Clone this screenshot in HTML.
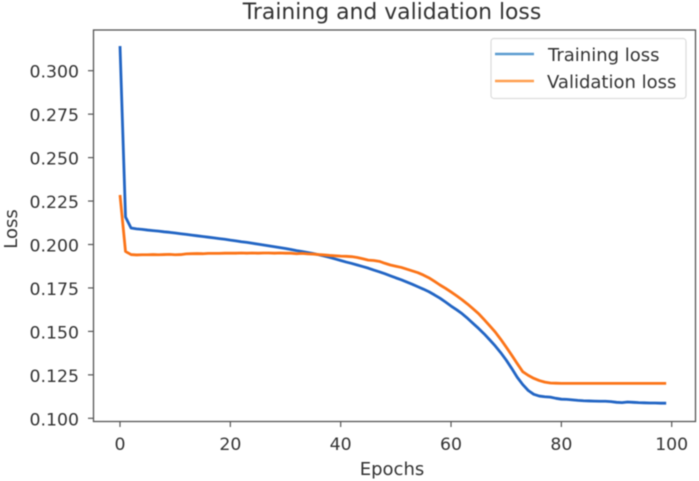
<!DOCTYPE html>
<html>
<head>
<meta charset="utf-8">
<style>
html,body{margin:0;padding:0;background:#fff;width:699px;height:481px;overflow:hidden}
svg{display:block;filter:blur(0.45px)}
text{font-family:"DejaVu Sans","Liberation Sans",sans-serif;fill:#333}
</style>
</head>
<body>
<svg id="chart" width="699" height="481" viewBox="0 0 699 481" xmlns="http://www.w3.org/2000/svg"></svg>
<script>
const chartTitle = "Training and validation loss";
const xTicks = [0, 20, 40, 60, 80, 100];
const yTicks = [0.100, 0.125, 0.150, 0.175, 0.200, 0.225, 0.250, 0.275, 0.300];
const trainingLoss = [
0.3142,0.2158,0.2095,0.2090,0.2087,0.2083,0.2080,0.2077,0.2073,0.2070,
0.2066,0.2062,0.2058,0.2054,0.2050,0.2046,0.2042,0.2038,0.2034,0.2030,
0.2025,0.2021,0.2016,0.2012,0.2007,0.2002,0.1997,0.1992,0.1987,0.1982,
0.1977,0.1971,0.1965,0.1960,0.1954,0.1948,0.1941,0.1934,0.1926,0.1917,
0.1908,0.1899,0.1891,0.1882,0.1873,0.1864,0.1853,0.1843,0.1832,0.1820,
0.1808,0.1797,0.1784,0.1771,0.1757,0.1743,0.1728,0.1710,0.1691,0.1669,
0.1646,0.1625,0.1602,0.1575,0.1546,0.1517,0.1486,0.1452,0.1417,0.1378,
0.1335,0.1287,0.1236,0.1194,0.1160,0.1138,0.1128,0.1124,0.1122,0.1115,
0.1110,0.1109,0.1106,0.1103,0.1101,0.1100,0.1099,0.1098,0.1098,0.1096,
0.1092,0.1090,0.1094,0.1092,0.1090,0.1089,0.1088,0.1088,0.1087,0.1087];
const validationLoss = [
0.2285,0.1960,0.1942,0.1940,0.1941,0.1941,0.1942,0.1941,0.1942,0.1943,
0.1941,0.1942,0.1946,0.1947,0.1948,0.1947,0.1949,0.1949,0.1949,0.1950,
0.1950,0.1950,0.1951,0.1950,0.1951,0.1950,0.1951,0.1951,0.1950,0.1951,
0.1950,0.1950,0.1947,0.1949,0.1946,0.1945,0.1942,0.1940,0.1937,0.1935,
0.1933,0.1932,0.1930,0.1925,0.1918,0.1910,0.1908,0.1903,0.1892,0.1882,
0.1875,0.1868,0.1858,0.1848,0.1838,0.1824,0.1808,0.1788,0.1767,0.1748,
0.1727,0.1705,0.1682,0.1657,0.1630,0.1602,0.1568,0.1533,0.1497,0.1455,
0.1410,0.1363,0.1315,0.1268,0.1247,0.1230,0.1217,0.1208,0.1203,0.1202,
0.1201,0.1201,0.1201,0.1201,0.1201,0.1201,0.1201,0.1201,0.1201,0.1201,
0.1201,0.1201,0.1201,0.1201,0.1201,0.1201,0.1201,0.1201,0.1201,0.1201];

const NS = "http://www.w3.org/2000/svg";
const svg = document.getElementById("chart");
const left = 93.5, right = 695.5, top_ = 30, bottom = 421.5;
function xScale(v){ return 120 + v * 5.517; }
function yScale(v){ return 418.3 - (v - 0.1) * 1738; }
function add(tag, attrs, parent){
  const el = document.createElementNS(NS, tag);
  for (const k in attrs) el.setAttribute(k, attrs[k]);
  (parent || svg).appendChild(el);
  return el;
}
function pathFor(vals){
  return vals.map((v, i) => (i ? "L" : "M") + xScale(i).toFixed(2) + " " + yScale(v).toFixed(2)).join(" ");
}

const titleEl = add("text", {x: 392, y: 19, "text-anchor": "middle", "font-size": 21.9});


titleEl.textContent = chartTitle;

xTicks.forEach(t => {
  const tick = add("line", {x1: xScale(t), x2: xScale(t), y1: bottom, y2: bottom + 5.5, stroke: "#555", "stroke-width": 1.2});
  
  
  const lab = add("text", {x: xScale(t), y: 450, "text-anchor": "middle", "font-size": 17.3});
  
  
  lab.textContent = String(t);
});
yTicks.forEach(t => {
  const tick = add("line", {x1: left - 5.5, x2: left, y1: yScale(t), y2: yScale(t), stroke: "#555", "stroke-width": 1.2});
  
  
  const lab = add("text", {x: 79, y: yScale(t) + 7, "text-anchor": "end", "font-size": 17.3});
  
  
  lab.textContent = t.toFixed(3);
});

const xTitle = add("text", {x: 392, y: 475, "text-anchor": "middle", "font-size": 18});


xTitle.textContent = "Epochs";
const yTitle = add("text", {x: 17, y: 229, "text-anchor": "middle", "font-size": 18, transform: "rotate(-90 17 229)"});


yTitle.textContent = "Loss";

const trainLine = add("path", {d: pathFor(trainingLoss), fill: "none", stroke: "#2265c4", "stroke-width": 2.8, "stroke-linejoin": "round"});


const valLine = add("path", {d: pathFor(validationLoss), fill: "none", stroke: "#fb7418", "stroke-width": 2.8, "stroke-linejoin": "round"});



const frame = add("rect", {x: left, y: top_, width: right - left, height: bottom - top_, fill: "none", stroke: "#555", "stroke-width": 1.3});



const legend = add("g", {});


const legendBox = add("rect", {x: 491, y: 38.5, width: 195, height: 60, rx: 3, fill: "#fff", stroke: "#dcdcdc", "stroke-width": 1.2}, legend);


const sw1 = add("line", {x1: 495, x2: 534, y1: 54, y2: 54, stroke: "#5b9bd0", "stroke-width": 2.6}, legend);


const lab1 = add("text", {x: 548, y: 61, "font-size": 18}, legend);


lab1.textContent = "Training loss";
const sw2 = add("line", {x1: 495, x2: 534, y1: 81, y2: 81, stroke: "#ff9f50", "stroke-width": 2.6}, legend);


const lab2 = add("text", {x: 547, y: 88, "font-size": 18}, legend);


lab2.textContent = "Validation loss";
</script>
</body>
</html>
